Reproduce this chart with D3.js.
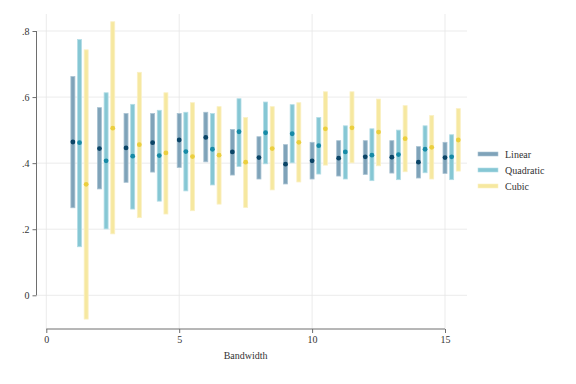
<!DOCTYPE html>
<html>
<head>
<meta charset="utf-8">
<script src="https://cdn.jsdelivr.net/npm/d3@7"></script>
<style>
  body { margin: 0; background: #fff; }
  svg text { font-family: "Liberation Serif", "Times New Roman", serif !important; }
</style>
</head>
<body>
<svg id="chart" width="576" height="384"></svg>
<script>
// data
const bandwidths = [1, 2, 3, 4, 5, 6, 7, 8, 9, 10, 11, 12, 13, 14, 15];
const seriesNames = ["Linear", "Quadratic", "Cubic"];

const linearEst = [0.464, 0.444, 0.446, 0.462, 0.470, 0.478, 0.434, 0.417, 0.397, 0.407, 0.415, 0.419, 0.418, 0.403, 0.417];
const linearLo  = [0.265, 0.322, 0.342, 0.373, 0.387, 0.404, 0.364, 0.352, 0.337, 0.352, 0.361, 0.366, 0.370, 0.355, 0.369];
const linearHi  = [0.662, 0.568, 0.550, 0.550, 0.550, 0.554, 0.502, 0.480, 0.456, 0.463, 0.468, 0.468, 0.468, 0.450, 0.463];

const quadEst = [0.462, 0.407, 0.421, 0.423, 0.435, 0.442, 0.495, 0.492, 0.489, 0.453, 0.434, 0.424, 0.426, 0.442, 0.419];
const quadLo  = [0.147, 0.201, 0.261, 0.285, 0.316, 0.334, 0.390, 0.398, 0.401, 0.367, 0.352, 0.347, 0.350, 0.371, 0.350];
const quadHi  = [0.774, 0.613, 0.578, 0.560, 0.554, 0.550, 0.595, 0.585, 0.577, 0.538, 0.513, 0.504, 0.500, 0.513, 0.486];

const cubicEst = [0.336, 0.506, 0.456, 0.431, 0.420, 0.424, 0.403, 0.444, 0.463, 0.504, 0.507, 0.494, 0.474, 0.448, 0.470];
const cubicLo  = [-0.072, 0.186, 0.235, 0.246, 0.256, 0.276, 0.266, 0.319, 0.343, 0.394, 0.401, 0.392, 0.374, 0.352, 0.376];
const cubicHi  = [0.743, 0.828, 0.675, 0.613, 0.583, 0.571, 0.538, 0.571, 0.583, 0.616, 0.616, 0.594, 0.574, 0.544, 0.565];

const xTicks = [0, 5, 10, 15];
const yTicks = [0, 0.2, 0.4, 0.6, 0.8];
const yTickLabels = ["0", ".2", ".4", ".6", ".8"];

// styles
const barFill   = ["#7fa3b9", "#86c7d4", "#f6e8a0"];
const barStroke = ["#a8c2d2", "#b3dde6", "#faf0c4"];
const dotFill   = ["#0a4466", "#168aa6", "#ebcf3e"];
const offsets = [0, 0.25, 0.5];

// plot region
const plot = { left: 37, right: 467, top: 14, bottom: 329 };

const x = d3.scaleLinear().domain([0, 15]).range([46.3, 445]);
const y = d3.scaleLinear().domain([0, 0.8]).range([295.3, 31]);

const svg = d3.select("#chart");

// gridlines
svg.append("g")
    .selectAll("line")
    .data(yTicks)
    .join("line")
    .attr("x1", plot.left)
    .attr("x2", plot.right)
    .attr("y1", d => y(d))
    .attr("y2", d => y(d))
    .attr("stroke", "#e6e6e6")
    .attr("stroke-width", 0.8);

svg.append("g")
    .selectAll("line")
    .data(xTicks)
    .join("line")
    .attr("x1", d => x(d))
    .attr("x2", d => x(d))
    .attr("y1", plot.top)
    .attr("y2", plot.bottom)
    .attr("stroke", "#e6e6e6")
    .attr("stroke-width", 0.8);

// build series
const series = [
    { est: linearEst, lo: linearLo, hi: linearHi },
    { est: quadEst, lo: quadLo, hi: quadHi },
    { est: cubicEst, lo: cubicLo, hi: cubicHi }
];

// bars (confidence intervals)
series.forEach((s, k) => {
    const rows = bandwidths.map((b, i) => ({ b: b + offsets[k], lo: s.lo[i], hi: s.hi[i] }));
    svg.append("g")
        .selectAll("rect")
        .data(rows)
        .join("rect")
        .attr("x", d => x(d.b) - 2)
        .attr("y", d => y(d.hi))
        .attr("width", 4)
        .attr("height", d => y(d.lo) - y(d.hi))
        .attr("fill", barFill[k])
        .attr("stroke", barStroke[k])
        .attr("stroke-width", 0.8);
});

// point estimates
series.forEach((s, k) => {
    const rows = bandwidths.map((b, i) => ({ b: b + offsets[k], v: s.est[i] }));
    svg.append("g")
        .selectAll("circle")
        .data(rows)
        .join("circle")
        .attr("cx", d => x(d.b))
        .attr("cy", d => y(d.v))
        .attr("r", 2.4)
        .attr("fill", dotFill[k]);
});

// y axis
const yAxis = svg.append("g")
    .attr("transform", `translate(${plot.left - 0.5},0)`)
    .call(d3.axisLeft(y).tickValues(yTicks).tickSize(4).tickPadding(3)
        .tickFormat((d, i) => yTickLabels[i]));
yAxis.select(".domain").attr("stroke", "#6e6e6e").attr("d", `M-0,${y(0.8)}V${y(0)}`);
yAxis.selectAll(".tick line").attr("stroke", "#6e6e6e");
yAxis.selectAll("text").attr("font-size", 10).attr("fill", "#333");

// x axis
const xAxis = svg.append("g")
    .attr("transform", `translate(0,${plot.bottom})`)
    .call(d3.axisBottom(x).tickValues(xTicks).tickSize(4).tickPadding(3).tickFormat(d3.format("d")));
xAxis.select(".domain").attr("stroke", "#6e6e6e").attr("d", `M${x(0)},0H${x(15)}`);
xAxis.selectAll(".tick line").attr("stroke", "#6e6e6e");
xAxis.selectAll("text").attr("font-size", 10).attr("fill", "#333");

// axis title
svg.append("text")
    .attr("x", (x(0) + x(15)) / 2)
    .attr("y", 359)
    .attr("text-anchor", "middle")
    .attr("font-size", 10)
    .attr("fill", "#333")
    .text("Bandwidth");

// legend
const legend = svg.append("g").attr("transform", "translate(478,154)");
seriesNames.forEach((name, k) => {
    const row = legend.append("g").attr("transform", `translate(0,${k * 16})`);
    row.append("rect")
        .attr("x", 0)
        .attr("y", -2)
        .attr("width", 20)
        .attr("height", 4)
        .attr("fill", barFill[k])
        .attr("stroke", barStroke[k])
        .attr("stroke-width", 0.6);
    row.append("text")
        .attr("x", 27)
        .attr("y", 3.5)
        .attr("font-size", 10)
        .attr("fill", "#333")
        .text(name);
});
</script>
</body>
</html>
